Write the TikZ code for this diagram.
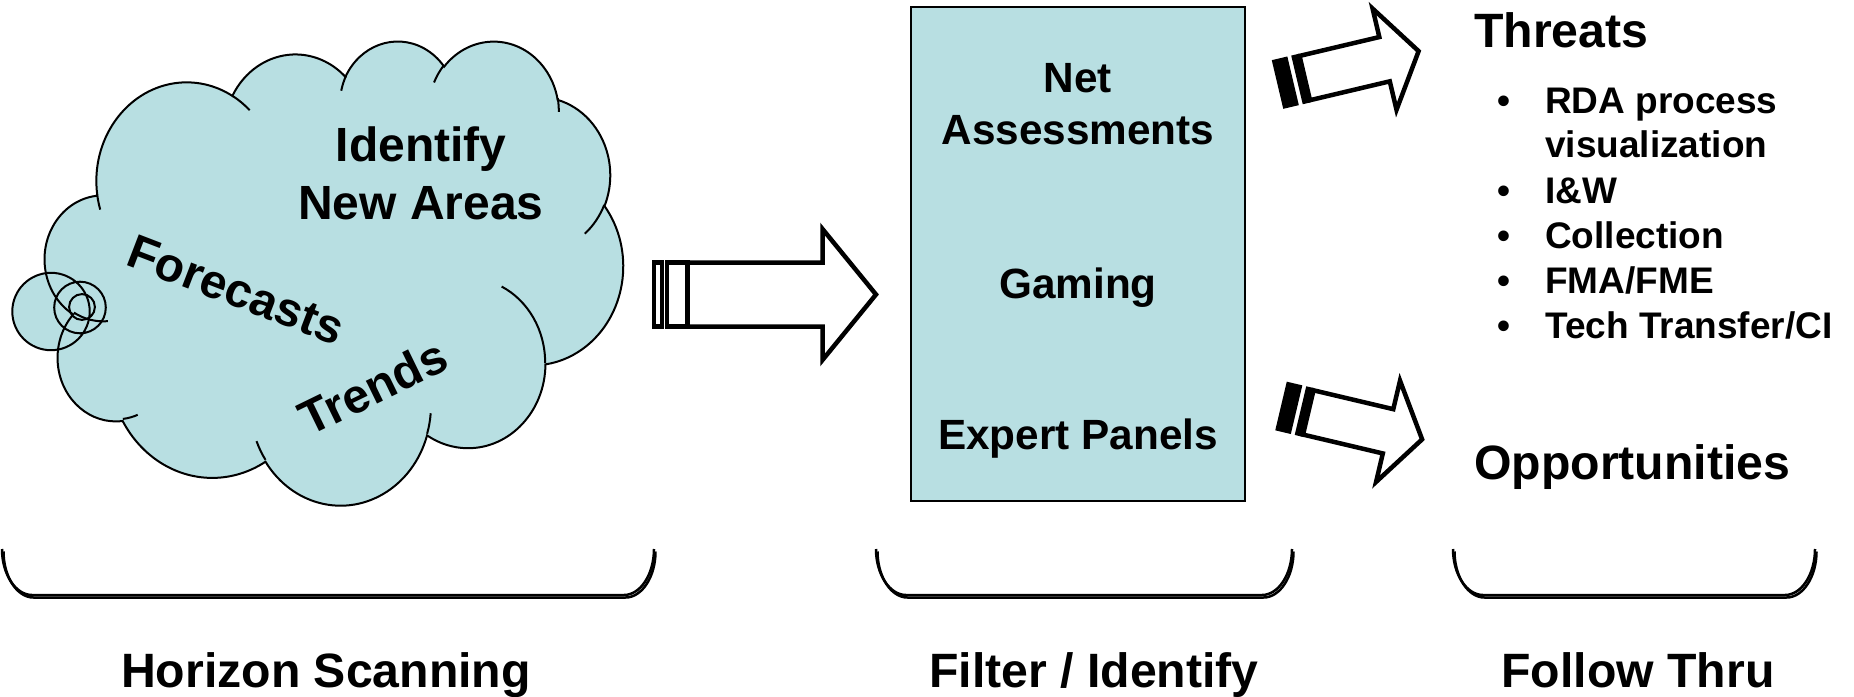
\documentclass[tikz,border=0pt]{standalone}
\usepackage{fontspec}
\setmainfont{Liberation Sans}
\usetikzlibrary{positioning}
\definecolor{scanblue}{HTML}{B8DFE2}

% elliptic arc given by radii, start angle and sweep (angles seen from the centre)
\newcommand\ooarc[4]{arc[x radius=#1,y radius=#2,
  start angle={atan2(#1*sin(#3),#2*cos(#3))},
  delta angle={atan2(#1*sin(#3+#4),#2*cos(#3+#4))-atan2(#1*sin(#3),#2*cos(#3))+360*round((#4-atan2(#1*sin(#3+#4),#2*cos(#3+#4))+atan2(#1*sin(#3),#2*cos(#3)))/360)}]}

\newcommand\cloudpath{(39.00,143.70)
  \ooarc{67.53}{91.90}{-190.48748}{123.78053}
  \ooarc{53.33}{72.67}{-144.10238}{89.94523}
  \ooarc{43.65}{59.45}{-145.80792}{99.72302}
  \ooarc{48.57}{65.95}{-130.98607}{117.24173}
  \ooarc{53.33}{72.73}{-78.70888}{109.02692}
  \ooarc{67.75}{92.20}{-46.26725}{130.26900}
  \ooarc{57.85}{78.67}{0.62502}{114.03333}
  \ooarc{67.52}{92.15}{22.45160}{115.17255}
  \ooarc{77.20}{105.43}{66.24263}{75.71102}
  \ooarc{43.60}{59.18}{-274.94208}{146.73557}
  \ooarc{43.45}{59.45}{-246.82850}{152.51885} -- cycle}

\newcommand\bracketpath[2]{(#1,549) .. controls (#1,574) and ({#1+13.4},595) .. ({#1+30},595)
  -- ({#2-30},595) .. controls ({#2-13.4},595) and (#2,574) .. (#2,549)}

\begin{document}
\begin{tikzpicture}[x=1pt,y=-1pt,
  cloudline/.style={draw=black,line width=2pt},
  panel/.style={draw=black,fill=scanblue,line width=2pt,minimum width=334pt,minimum height=494pt,inner sep=0pt},
  cloudtxt/.style={font=\fontsize{48}{58}\selectfont\bfseries,inner sep=0pt},
  boxtxt/.style={font=\fontsize{42.3}{51}\selectfont\bfseries,anchor=base,inner sep=0pt},
  biglbl/.style={font=\fontsize{48.2}{58}\selectfont\bfseries,anchor=base,inner sep=0pt},
  itemtxt/.style={font=\fontsize{37}{44}\selectfont\bfseries,anchor=base west,inner sep=0pt},
  dot/.style={font=\fontsize{37}{44}\selectfont\bfseries,anchor=base,inner sep=0pt},
  blockarrow/.style={draw=black,fill=white,line width=4.5pt,line join=miter},
  bracket/.style={draw=black,line width=2.5pt}]
\useasboundingbox (0,0) rectangle (1854,696);

% thought bubble and cloud
\fill[scanblue] (51,311.5) circle[radius=38.7] (80,307.5) circle[radius=25.8] (82,307) circle[radius=12.9];
\begin{scope}[shift={(45,40)},x=1.33796pt,y=-1.07407pt]
\path[fill=scanblue,cloudline] \cloudpath;
\draw[cloudline] (46.93,261.77) \ooarc{43.45}{59.45}{86.74200}{26.42950}
  (69.28,348.99) \ooarc{43.60}{59.18}{73.61047}{11.44747}
  (164.78,390.90) \ooarc{67.52}{92.15}{137.62415}{14.08110}
  (288.27,347.51) \ooarc{67.52}{92.15}{6.45327}{15.99835}
  (341.29,229.54) \ooarc{57.85}{78.67}{-70.29235}{70.91737}
  (417.98,153.54) \ooarc{53.33}{72.73}{30.31803}{27.75150}
  (383.24,54.26) \ooarc{48.57}{65.95}{-13.74433}{14.85890}
  (290.78,39.52) \ooarc{48.57}{65.95}{-149.18145}{18.19537}
  (221.41,47.20) \ooarc{43.65}{59.45}{-163.49427}{17.68635}
  (140.00,51.92) \ooarc{67.53}{91.90}{-66.70695}{12.31935}
  (41.27,157.89) \ooarc{67.53}{91.90}{157.65435}{11.85817};
\end{scope}
\draw[cloudline] (51,311.5) circle[radius=38.7] (80,307.5) circle[radius=25.8] (82,307) circle[radius=12.9];

\node[cloudtxt,anchor=base] (ident) at (421,161) {Identify};
\node[cloudtxt,anchor=base] (newar) at (421,219) {New Areas};
\node[cloudtxt,rotate=-21] (fcast) at (236,290) {Forecasts};
\node[cloudtxt,rotate=26] (trend) at (373,387) {Trends};

% striped block arrows
\begin{scope}[shift={(652,294.5)}]
\draw[blockarrow] (2,-32) rectangle (10,32);
\draw[blockarrow] (15,-32) rectangle (35.5,32);
\draw[blockarrow] (35.5,-32) -- (170.5,-32) -- (170.5,-65.5) -- (224,0) -- (170.5,65.5) -- (170.5,32) -- (35.5,32) -- cycle;
\end{scope}
\foreach \ax/\ay/\ang in {1277.5/84.5/13.3, 1281/406/-13.3}{
  \begin{scope}[shift={(\ax,\ay)},rotate=\ang]
  \fill (0,-25) rectangle (16,25);
  \fill (20,-25) rectangle (28,25);
  \draw[blockarrow] (28,-22.75) -- (110,-22.75) -- (110,-52) -- (145,0) -- (110,52) -- (110,22.75) -- (28,22.75) -- cycle;
  \end{scope}}

% filter box
\node[panel] (filter) at (1078,254) {};
\node[boxtxt] (net) at ([yshift=-86pt]filter.north) {Net};
\node[boxtxt] (assess) at ([yshift=-138pt]filter.north) {Assessments};
\node[boxtxt] (gaming) at ([yshift=-292pt]filter.north) {Gaming};
\node[boxtxt] (expert) at ([yshift=-443pt]filter.north) {Expert Panels};

% follow thru
\node[biglbl,anchor=base west] (threat) at (1474,47) {Threats};
\node[dot] (d1) at (1504,113) {\textbullet};
\node[itemtxt] (rda) at (1545,113) {RDA process};
\node[itemtxt] (visu) at (1545,157) {visualization};
\node[dot] (d2) at (1504,203) {\textbullet};
\node[itemtxt] (iw) at (1545,203) {I\&W};
\node[dot] (d3) at (1504,248) {\textbullet};
\node[itemtxt] (coll) at (1545,248) {Collection};
\node[dot] (d4) at (1504,293) {\textbullet};
\node[itemtxt] (fma) at (1545,293) {FMA/FME};
\node[dot] (d5) at (1504,338) {\textbullet};
\node[itemtxt] (tech) at (1545,338) {Tech Transfer/CI};
\node[biglbl,anchor=base west] (oppo) at (1474,479) {Opportunities};

% brackets and stage labels
\foreach \bl/\br in {2/654, 876/1292, 1453/1815}{
  \draw[bracket,shift={(1.5,2.5)}] \bracketpath{\bl}{\br};
  \draw[bracket] \bracketpath{\bl}{\br};}
\node[biglbl] (hscan) at (326,687) {Horizon Scanning};
\node[biglbl] (filt) at (1094,687) {Filter / Identify};
\node[biglbl] (follow) at (1638,687) {Follow Thru};
\end{tikzpicture}
\end{document}
